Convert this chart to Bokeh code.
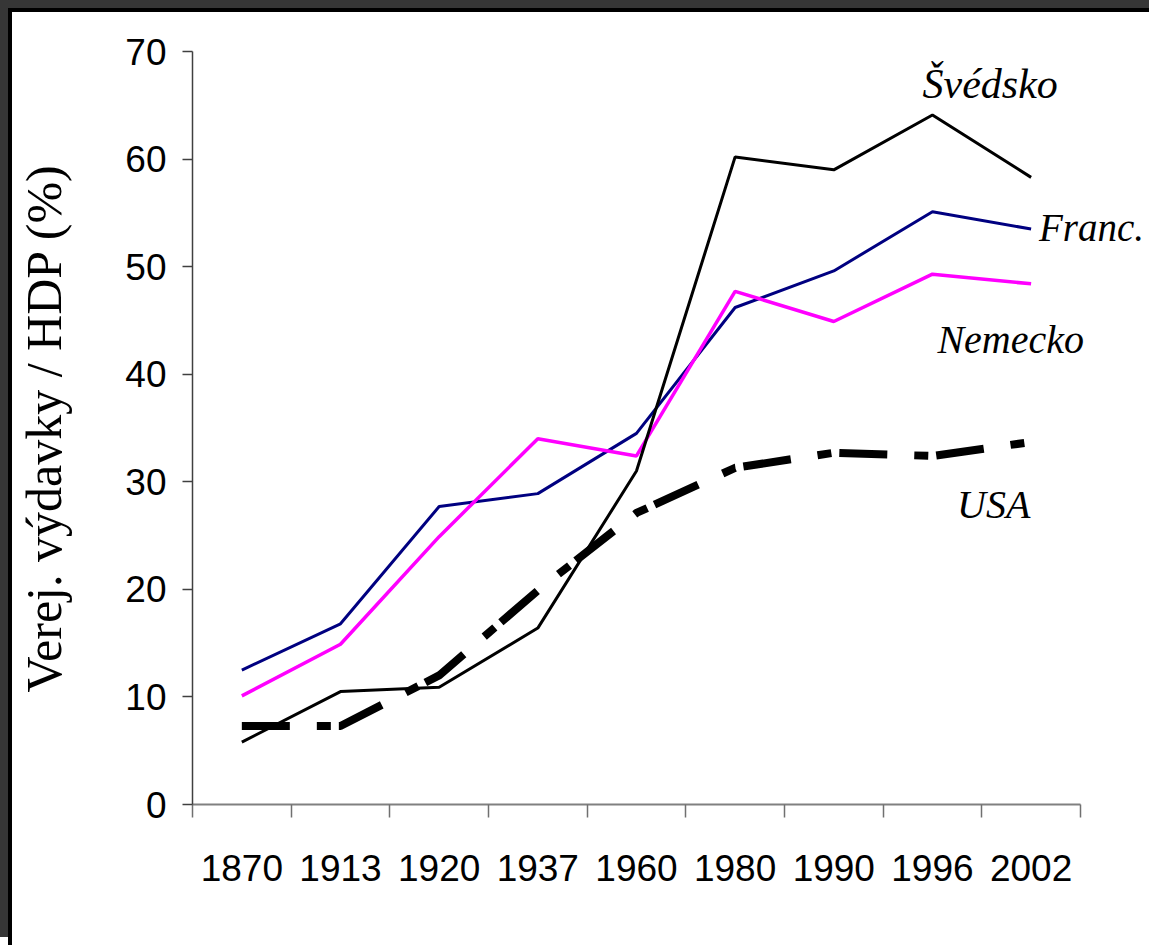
from bokeh.plotting import figure
from bokeh.models import Range1d, FixedTicker, Label
from bokeh.embed import file_html
from bokeh.resources import INLINE

years = ["1870", "1913", "1920", "1937", "1960", "1980", "1990", "1996", "2002"]
sweden = [5.8, 10.5, 10.9, 16.4, 31.0, 60.2, 59.0, 64.1, 58.3]
france = [12.5, 16.8, 27.7, 28.9, 34.5, 46.2, 49.6, 55.1, 53.5]
germany = [10.1, 14.9, 24.9, 34.0, 32.4, 47.7, 44.9, 49.3, 48.4]
usa = [7.3, 7.3, 12.0, 19.9, 27.1, 31.3, 32.7, 32.4, 33.7]
y_ticks = [0, 10, 20, 30, 40, 50, 60, 70]

idx = list(range(len(years)))
bounds = [i - 0.5 for i in range(len(years) + 1)]

SANS = "'Liberation Sans', Arial, sans-serif"
SERIF = "'Liberation Serif', 'Times New Roman', serif"

p = figure(frame_width=957, frame_height=753,
           x_range=Range1d(-0.5, len(years) + 0.2),
           y_range=Range1d(0, 70),
           toolbar_location=None, output_backend="svg",
           min_border_left=180, min_border_right=0,
           min_border_top=39, min_border_bottom=141)
p.styles = {"margin-top": "8px", "margin-left": "8px",
            "border-top": "4px solid #000", "border-left": "4px solid #000",
            "box-shadow": "-8px -8px 0 0 #363636, 0 -8px 0 0 #363636"}
p.grid.visible = False
p.outline_line_color = None
p.background_fill_color = "white"
p.border_fill_color = "white"

# y axis
ya = p.yaxis[0]
ya.ticker = FixedTicker(ticks=y_ticks)
ya.axis_line_color = "#404040"
ya.axis_line_width = 1.5
ya.major_tick_line_color = "#404040"
ya.major_tick_line_width = 1.5
ya.major_tick_out = 10
ya.major_tick_in = 0
ya.minor_tick_line_color = None
ya.major_label_text_font = SANS
ya.major_label_text_font_size = "37px"
ya.major_label_text_color = "black"
ya.major_label_standoff = 16
ya.axis_label = "Verej. výdavky / HDP (%)"
ya.axis_label_text_font = SERIF
ya.axis_label_text_font_size = "50px"
ya.axis_label_text_font_style = "normal"
ya.axis_label_text_color = "black"
ya.axis_label_standoff = 50

# x axis: labels at category centres, ticks at category boundaries
xa = p.xaxis[0]
xa.ticker = FixedTicker(ticks=idx, minor_ticks=bounds)
xa.bounds = (bounds[0], bounds[-1])
xa.major_label_overrides = {i: y for i, y in zip(idx, years)}
xa.axis_line_color = "#808080"
xa.axis_line_width = 2
xa.major_tick_line_color = None
xa.major_tick_out = 0
xa.major_tick_in = 0
xa.minor_tick_line_color = "#707070"
xa.minor_tick_line_width = 1.5
xa.minor_tick_out = 13
xa.minor_tick_in = 0
xa.major_label_text_font = SANS
xa.major_label_text_font_size = "37px"
xa.major_label_text_color = "black"
xa.major_label_standoff = 37

p.line(idx, france, line_color="#000080", line_width=3)
p.line(idx, germany, line_color="#FF00FF", line_width=3.5)
p.line(idx, usa, line_color="black", line_width=8, line_dash="48 27 14 8")
p.line(idx, sweden, line_color="black", line_width=3)

lab_style = dict(text_font=SERIF, text_font_style="italic", text_color="black",
                 text_baseline="middle", text_align="left")
p.add_layout(Label(x=6.90, y=67.0, text="Švédsko", text_font_size="42px", **lab_style))
p.add_layout(Label(x=8.08, y=53.6, text="Franc.", text_font_size="39px", **lab_style))
p.add_layout(Label(x=7.05, y=43.2, text="Nemecko", text_font_size="40px", **lab_style))
p.add_layout(Label(x=7.25, y=27.9, text="USA", text_font_size="40px", **lab_style))

open("out.html", "w").write(file_html(p, INLINE))
